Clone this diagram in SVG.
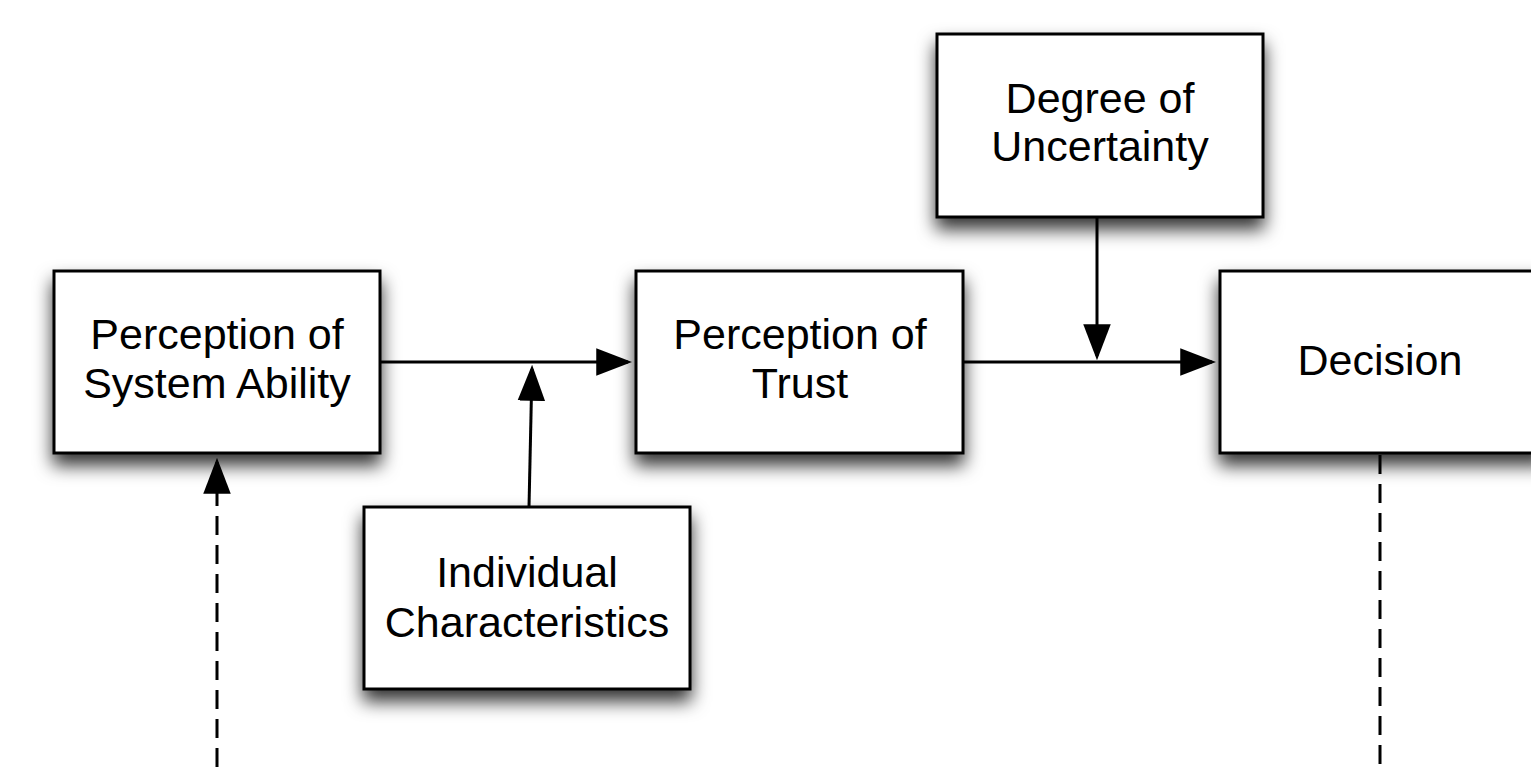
<svg xmlns="http://www.w3.org/2000/svg" width="1531" height="767" viewBox="0 0 1531 767">
  <style>
    .box { fill: #ffffff; stroke: #000000; stroke-width: 3; filter: url(#shadow); }
    .label { font-family: "Liberation Sans", Arial, Helvetica, sans-serif; font-size: 43px; fill: #000000; text-anchor: middle; }
    .conn { fill: none; stroke: #000000; stroke-width: 3; marker-end: url(#arrow); }
    .dash { stroke-dasharray: 19 10; }
    .plain { marker-end: none; }
  </style>
  <defs>
    <filter id="shadow" x="-20%" y="-20%" width="140%" height="160%">
      <feDropShadow dx="0" dy="11" stdDeviation="9" flood-color="#000000" flood-opacity="0.8"/>
    </filter>
    <marker id="arrow" markerUnits="userSpaceOnUse" markerWidth="36" markerHeight="28" viewBox="0 0 34 26" refX="30" refY="13" orient="auto">
      <path d="M0,0 L34,13 L0,26 z" fill="#000000"/>
    </marker>
  </defs>
  <rect width="1531" height="767" fill="#ffffff"/>

  <g id="connectors">
    <line class="conn" x1="380" y1="362" x2="628" y2="362"/>
    <line class="conn" x1="529" y1="507" x2="532" y2="369"/>
    <line class="conn" x1="963" y1="362" x2="1212" y2="362"/>
    <line class="conn" x1="1097" y1="217" x2="1097" y2="356"/>
    <line class="conn dash" x1="217" y1="767" x2="217" y2="462"/>
    <line class="conn dash plain" x1="1380" y1="455" x2="1380" y2="767"/>
  </g>

  <g id="node-ability">
    <rect class="box" x="54" y="271" width="326" height="182"/>
    <text class="label" x="217" y="349">Perception of</text>
    <text class="label" x="217" y="398">System Ability</text>
  </g>

  <g id="node-trust">
    <rect class="box" x="636" y="271" width="327" height="182"/>
    <text class="label" x="800" y="349">Perception of</text>
    <text class="label" x="800" y="398">Trust</text>
  </g>

  <g id="node-decision">
    <rect class="box" x="1220" y="271" width="326" height="182"/>
    <text class="label" x="1380" y="375">Decision</text>
  </g>

  <g id="node-uncertainty">
    <rect class="box" x="937" y="34" width="326" height="183"/>
    <text class="label" x="1100" y="113">Degree of</text>
    <text class="label" x="1100" y="161">Uncertainty</text>
  </g>

  <g id="node-individual">
    <rect class="box" x="364" y="507" width="326" height="182"/>
    <text class="label" x="527" y="587">Individual</text>
    <text class="label" x="527" y="637">Characteristics</text>
  </g>
</svg>
